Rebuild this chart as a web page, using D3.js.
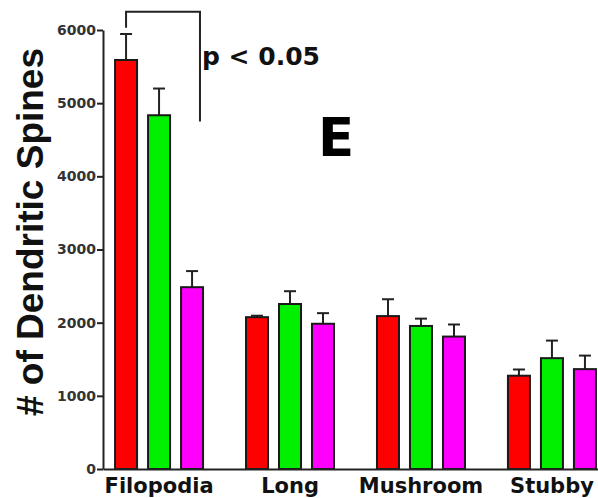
<!DOCTYPE html>
<html>
<head>
<meta charset="utf-8">
<script src="https://cdn.jsdelivr.net/npm/d3@7"></script>
<style>
    body { margin: 0; background: #fff; }
    svg { display: block; }
</style>
</head>
<body>
<div id="chart"></div>
<script>
// Spine type categories and the three groups
const categories = ['Filopodia', 'Long', 'Mushroom', 'Stubby'];
const groups = ['red', 'green', 'magenta'];
const groupColors = ['#ff0000', '#00f000', '#ff00ff'];

// Mean values per category, one array per group
const redValues = [5590, 2075, 2090, 1275];
const greenValues = [4835, 2255, 1955, 1515];
const magentaValues = [2485, 1985, 1810, 1365];

// Error (SEM) per category
const redErrors = [355, 20, 230, 85];
const greenErrors = [365, 175, 100, 240];
const magentaErrors = [220, 145, 165, 185];

const yTicks = [0, 1000, 2000, 3000, 4000, 5000, 6000];

// Significance bracket (data units)
const bracketTop = 6250;
const bracketLeftEnd = 6030;
const bracketRightEnd = 4750;

function renderSpineChart(containerId) {
    const fullWidth = 598;
    const fullHeight = 498;
    const margin = { top: 30, right: 0, bottom: 29, left: 103 };
    const height = fullHeight - margin.top - margin.bottom;

    const svg = d3.select(`#${containerId}`)
        .append('svg')
        .attr('width', fullWidth)
        .attr('height', fullHeight);

    const g = svg.append('g')
        .attr('transform', `translate(${margin.left}, ${margin.top})`);

    // Scales
    const xScale = d3.scaleBand()
        .domain(categories)
        .range([0, 505])
        .paddingInner(0.328)
        .paddingOuter(0.092);

    const xInner = d3.scaleBand()
        .domain(groups)
        .range([0, xScale.bandwidth()])
        .paddingInner(0.333)
        .paddingOuter(0);

    const yScale = d3.scaleLinear()
        .domain([0, 6000])
        .range([height, 0]);

    // Build rows for bars
    const series = [redValues, greenValues, magentaValues];
    const errors = [redErrors, greenErrors, magentaErrors];
    const rows = [];
    categories.forEach((cat, i) => {
        groups.forEach((grp, j) => {
            rows.push({
                category: cat,
                group: grp,
                color: groupColors[j],
                value: series[j][i],
                error: errors[j][i]
            });
        });
    });

    const barX = d => xScale(d.category) + xInner(d.group);
    const bw = xInner.bandwidth();

    // Error bars (upper only)
    g.selectAll('.err-line')
        .data(rows)
        .enter()
        .append('line')
        .attr('x1', d => barX(d) + bw / 2)
        .attr('x2', d => barX(d) + bw / 2)
        .attr('y1', d => yScale(d.value))
        .attr('y2', d => yScale(d.value + d.error))
        .attr('stroke', '#222')
        .attr('stroke-width', 2);

    g.selectAll('.err-cap')
        .data(rows)
        .enter()
        .append('line')
        .attr('x1', d => barX(d) + bw / 2 - 6)
        .attr('x2', d => barX(d) + bw / 2 + 6)
        .attr('y1', d => yScale(d.value + d.error))
        .attr('y2', d => yScale(d.value + d.error))
        .attr('stroke', '#222')
        .attr('stroke-width', 2);

    // Bars
    g.selectAll('.bar')
        .data(rows)
        .enter()
        .append('rect')
        .attr('x', barX)
        .attr('y', d => yScale(d.value))
        .attr('width', bw)
        .attr('height', d => height - yScale(d.value))
        .attr('fill', d => d.color)
        .attr('stroke', '#1a1a1a')
        .attr('stroke-width', 2);

    // Y axis
    const yAxis = g.append('g')
        .call(d3.axisLeft(yScale)
            .tickValues(yTicks)
            .tickFormat(d3.format('d'))
            .tickSize(6)
            .tickSizeOuter(0)
            .tickPadding(1)
        );
    yAxis.selectAll('.domain, .tick line')
        .attr('stroke', '#222')
        .attr('stroke-width', 2);
    yAxis.selectAll('text')
        .attr('fill', '#333')
        .style('font-family', '"DejaVu Sans", sans-serif')
        .style('font-weight', 'bold')
        .style('font-size', '14px');

    // X axis
    const xAxis = g.append('g')
        .attr('transform', `translate(0, ${height})`)
        .call(d3.axisBottom(xScale)
            .tickSize(0)
            .tickSizeOuter(0)
            .tickPadding(9)
        );
    xAxis.select('.domain')
        .attr('stroke', '#222')
        .attr('stroke-width', 2);
    xAxis.selectAll('text')
        .attr('fill', '#111')
        .style('font-family', '"DejaVu Sans", sans-serif')
        .style('font-weight', 'bold')
        .style('font-size', '21px');

    // Y axis label
    svg.append('text')
        .attr('transform', 'rotate(-90)')
        .attr('x', -232)
        .attr('y', 43)
        .style('text-anchor', 'middle')
        .style('font-family', '"Liberation Sans", Arial, sans-serif')
        .style('font-weight', 'bold')
        .style('font-size', '37px')
        .attr('fill', '#111')
        .text('# of Dendritic Spines');

    // Significance bracket from Filopodia red to magenta
    const leftX = xScale('Filopodia') + xInner('red') + bw / 2;
    const rightX = xScale('Filopodia') + xInner('magenta') + bw * 0.86;
    g.append('path')
        .attr('d', `M${leftX},${yScale(bracketLeftEnd)}V${yScale(bracketTop)}H${rightX}V${yScale(bracketRightEnd)}`)
        .attr('fill', 'none')
        .attr('stroke', '#222')
        .attr('stroke-width', 2);

    svg.append('text')
        .attr('x', 202)
        .attr('y', 65)
        .style('font-family', '"DejaVu Sans", sans-serif')
        .style('font-weight', 'bold')
        .style('font-size', '25px')
        .attr('fill', '#111')
        .text('p < 0.05');

    // Panel letter
    svg.append('text')
        .attr('x', 318)
        .attr('y', 156)
        .style('font-family', '"DejaVu Sans", sans-serif')
        .style('font-weight', 'bold')
        .style('font-size', '53px')
        .attr('fill', '#000')
        .text('E');
}

renderSpineChart('chart');
</script>
</body>
</html>
